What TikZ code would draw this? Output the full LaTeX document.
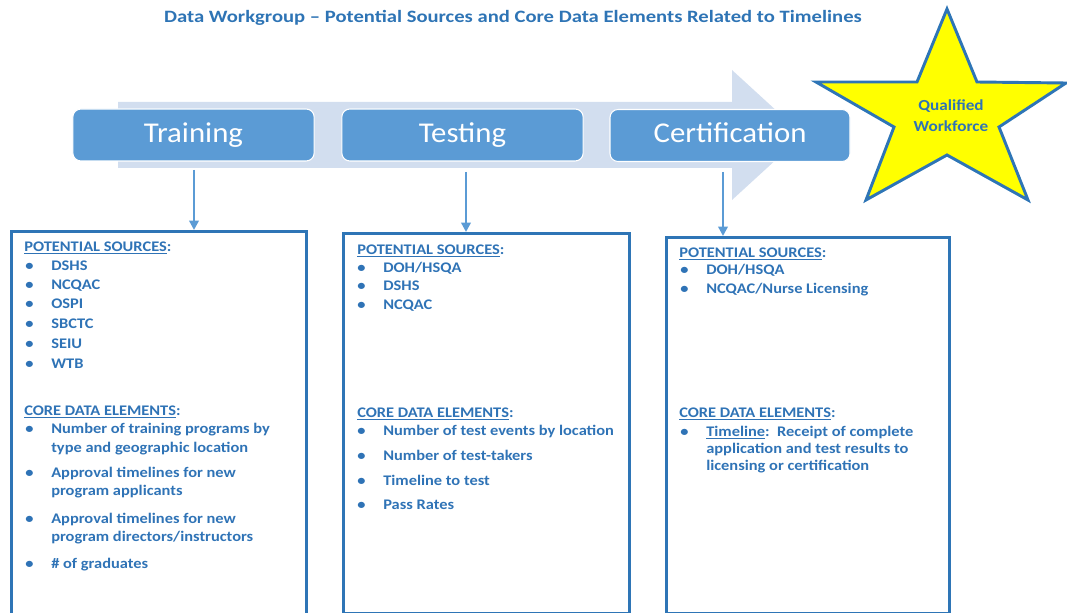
\documentclass[tikz,border=0pt]{standalone}
\usepackage{fontspec}
\setmainfont{Carlito}
\newfontfamily\bodyfont[FakeStretch=1.12]{Carlito}
\newfontfamily\titlefont[FakeStretch=1.19]{Carlito}
\newfontfamily\stepfont[FakeStretch=1.075]{Carlito}
\usetikzlibrary{arrows.meta}
\definecolor{titleblue}{HTML}{2E74B5}
\definecolor{txtblue}{HTML}{2F73B6}
\definecolor{stepfill}{HTML}{5B9BD5}
\definecolor{flowlight}{HTML}{D2DEEF}
\definecolor{frameblue}{HTML}{2E75B6}
\definecolor{staryellow}{HTML}{FFFF00}
\tikzset{
  stepbox/.style={draw=white, line width=0.8pt, fill=stepfill, rounded corners=6pt,
    text=white, font=\stepfont\fontsize{21.5}{24}\selectfont, inner sep=0pt,
    text height=15pt, text depth=4pt},
  infobox/.style={draw=frameblue, line width=2.2pt, inner sep=0pt},
  downarrow/.style={draw=stepfill, line width=1.8pt, -{Triangle[length=7pt,width=7pt]}},
  txt/.style={anchor=base west, inner sep=0pt, text=txtblue,
    font=\bodyfont\bfseries\fontsize{11}{13}\selectfont},
  bul/.style={txt},
  head/.style={anchor=base, inner sep=0pt, text=titleblue,
    font=\titlefont\bfseries\fontsize{13}{15}\selectfont},
  startxt/.style={align=center, inner sep=0pt, text=txtblue,
    font=\bodyfont\bfseries\fontsize{11.5}{15.5}\selectfont},
}
\newcommand{\ul}[1]{\underline{#1}}
\begin{document}
\begin{tikzpicture}[x=0.75pt,y=-0.75pt]
\useasboundingbox (0,0) rectangle (1067,613);

% title
\node[head] (title) at (513,23) {Data Workgroup – Potential Sources and Core Data Elements Related to Timelines};

% broad process arrow behind the steps
\fill[flowlight] (118,102) -- (732,102) -- (732,70) -- (803,135) -- (732,200)
  -- (732,168) -- (118,168) -- cycle;

% process steps
\node[stepbox, minimum width=181pt, minimum height=39pt] (train) at (193.5,135) {Training};
\node[stepbox, minimum width=181pt, minimum height=39pt] (test) at (462.5,135) {Testing};
\node[stepbox, minimum width=180pt, minimum height=39pt] (cert) at (730,135.5) {Certification};

% goal star
\filldraw[fill=staryellow, draw=frameblue, line width=2.2pt, line join=miter]
  (947,9) -- (977,82) -- (1066,83) -- (999,127) -- (1028,200) -- (947,155)
  -- (866,200) -- (894,127) -- (816,82) -- (917,82) -- cycle;
\node[startxt] (goal) at (951,115.5) {Qualified\\Workforce};

% detail frames
\node[infobox, minimum width=221pt, minimum height=288pt, anchor=north west] (box1) at (10,230) {};
\node[infobox, minimum width=214.5pt, minimum height=285pt, anchor=north west] (box2) at (342,232) {};
\node[infobox, minimum width=212.5pt, minimum height=282pt, anchor=north west] (box3) at (665,236) {};

% connectors from steps to frames
\coordinate (s1) at (194,170);
\coordinate (s2) at (466,172);
\coordinate (s3) at (723,172);
\draw[downarrow] (s1) -- (s1 |- box1.north);
\draw[downarrow] (s2) -- (s2 |- box2.north);
\draw[downarrow] (s3) -- (s3 |- box3.north);

% frame 1: training
\node[txt] (t1h) at (24,251) {\ul{POTENTIAL SOURCES}:};
\foreach \y/\s [count=\i] in {270/DSHS,289/NCQAC,308/OSPI,328/SBCTC,348/SEIU,368/WTB}{
  \node[bul] (t1b\i) at (25,\y) {•};
  \node[txt] (t1s\i) at (51,\y) {\s};
}
\node[txt] (t1c) at (24,415) {\ul{CORE DATA ELEMENTS}:};
\node[bul] (t1d1) at (25,433) {•};
\node[txt] (t1e1) at (51,433) {Number of training programs by};
\node[txt] (t1e1b) at (51,452) {type and geographic location};
\node[bul] (t1d2) at (25,477) {•};
\node[txt] (t1e2) at (51,477) {Approval timelines for new};
\node[txt] (t1e2b) at (51,495) {program applicants};
\node[bul] (t1d3) at (25,523) {•};
\node[txt] (t1e3) at (51,523) {Approval timelines for new};
\node[txt] (t1e3b) at (51,541) {program directors/instructors};
\node[bul] (t1d4) at (25,568) {•};
\node[txt] (t1e4) at (51,568) {\# of graduates};

% frame 2: testing
\node[txt] (t2h) at (357,254) {\ul{POTENTIAL SOURCES}:};
\foreach \y/\s [count=\i] in {272/{DOH/HSQA},290/DSHS,309/NCQAC}{
  \node[bul] (t2b\i) at (357,\y) {•};
  \node[txt] (t2s\i) at (383,\y) {\s};
}
\node[txt] (t2c) at (357,417) {\ul{CORE DATA ELEMENTS}:};
\foreach \y/\s [count=\i] in {435/Number of test events by location,460/Number of test-takers,485/Timeline to test,509/Pass Rates}{
  \node[bul] (t2d\i) at (357,\y) {•};
  \node[txt] (t2e\i) at (383,\y) {\s};
}

% frame 3: certification
\node[txt] (t3h) at (679,257) {\ul{POTENTIAL SOURCES}:};
\foreach \y/\s [count=\i] in {274/{DOH/HSQA},293/{NCQAC/Nurse Licensing}}{
  \node[bul] (t3b\i) at (680,\y) {•};
  \node[txt] (t3s\i) at (706,\y) {\s};
}
\node[txt] (t3c) at (679,417) {\ul{CORE DATA ELEMENTS}:};
\node[bul] (t3d1) at (680,436) {•};
\node[txt] (t3e1) at (706,436) {\ul{Timeline}:\ \ Receipt of complete};
\node[txt] (t3e1b) at (706,453) {application and test results to};
\node[txt] (t3e1c) at (706,470) {licensing or certification};
\end{tikzpicture}
\end{document}
